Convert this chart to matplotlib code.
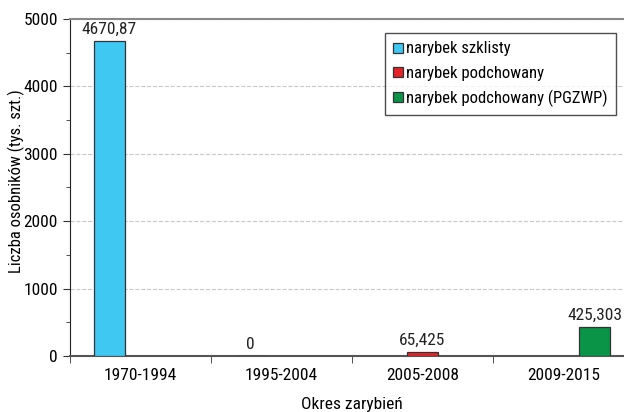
import numpy as np
import matplotlib.pyplot as plt
from matplotlib.ticker import MultipleLocator

plt.rcParams['font.family'] = ['Liberation Sans Narrow', 'Arial Narrow', 'Roboto Condensed',
                               'Archivo Narrow', 'PT Sans Narrow', 'Liberation Sans', 'DejaVu Sans']

# Okresy zarybień i liczba ryb (tys. szt.)
okresy = ['1970-1994', '1995-2004', '2005-2008', '2009-2015']
serie = ['narybek szklisty', 'narybek podchowany', 'narybek podchowany (PGZWP)']
szklisty = [4670.87, 0, None, None]
podchowany = [None, None, 65.425, None]
pgzwp = [None, None, None, 425.303]
kolory = ['#3ec8f2', '#e52228', '#0a9447']

fig = plt.figure(figsize=(6.24, 4.12), dpi=100)
ax = fig.add_axes([0.112, 0.136, 0.904, 0.818])

x = np.arange(len(okresy))
szer = 0.22
for i, (dane, nazwa, kol) in enumerate(zip([szklisty, podchowany, pgzwp], serie, kolory)):
    pos = x + (i - 1) * szer
    wart = [np.nan if v is None else v for v in dane]
    ax.bar(pos, wart, width=szer, color=kol, edgecolor='#333333', linewidth=0.9,
           label=nazwa, zorder=3)
    for p, v in zip(pos, dane):
        if v is None:
            continue
        txt = str(v).replace('.', ',')
        ax.text(p, v + 60, txt, ha='center', va='bottom', fontsize=12.5, color='#222222')

ax.set_xlim(-0.5, 3.5)
ax.set_ylim(0, 5000)
ax.set_xticks(x)
ax.set_xticklabels(okresy, fontsize=12.5)
ax.set_xticks(np.arange(-0.5, 4, 1), minor=True)
ax.tick_params(axis='x', which='major', length=0, pad=9)
ax.tick_params(axis='x', which='minor', length=5, color='#333333')
ax.yaxis.set_major_locator(MultipleLocator(1000))
ax.yaxis.set_minor_locator(MultipleLocator(500))
ax.tick_params(axis='y', which='major', length=5, labelsize=12.5, color='#333333')
ax.tick_params(axis='y', which='minor', length=3, color='#333333')

ax.grid(axis='y', linestyle='--', color='#c8c8c8', linewidth=0.8, zorder=0)
ax.spines['right'].set_visible(False)
ax.spines['top'].set_color('#888888')
ax.spines['top'].set_linewidth(1.5)
ax.spines['left'].set_color('#222222')
ax.spines['bottom'].set_color('#555555')
ax.spines['bottom'].set_linewidth(1.5)

ax.set_xlabel('Okres zarybień', fontsize=12.5, labelpad=10)
ax.set_ylabel('Liczba osobników (tys. szt.)', fontsize=12)
ax.yaxis.set_label_coords(-0.08, 0.52)

leg = ax.legend(loc='upper right', bbox_to_anchor=(0.968, 0.958), borderaxespad=0,
                fontsize=12, frameon=True, fancybox=False, handlelength=0.55,
                handleheight=0.55, handletextpad=0.2, labelspacing=0.55, borderpad=0.5)
leg.get_frame().set_edgecolor('#222222')
leg.get_frame().set_linewidth(1.0)

fig.savefig('out.png', dpi=100)
